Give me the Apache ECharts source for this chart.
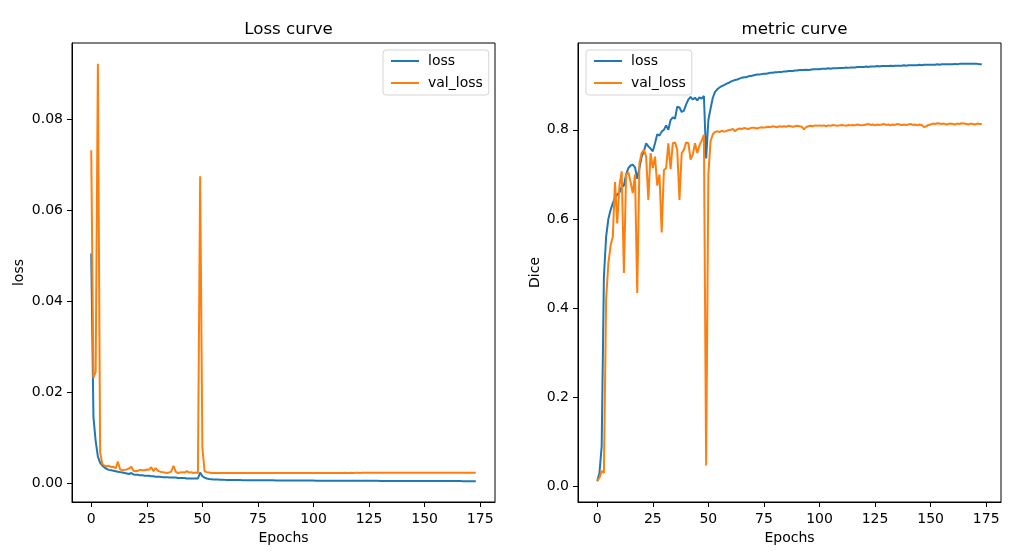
<!DOCTYPE html>
<html>
<head>
<meta charset="utf-8">
<script src="https://cdn.jsdelivr.net/npm/echarts@6/dist/echarts.min.js"></script>
<style>html,body{margin:0;padding:0;background:#fff;}#c{width:1028px;height:559px;}</style>
</head>
<body>
<div id="c"></div>
<script>
// ---- data ----
const lossTitle = 'Loss curve';
const metricTitle = 'metric curve';
const seriesNames = ['loss', 'val_loss'];
const xTicks = [0, 25, 50, 75, 100, 125, 150, 175];
const lossTicks = [0.00, 0.02, 0.04, 0.06, 0.08];
const diceTicks = [0.0, 0.2, 0.4, 0.6, 0.8];

const trainLoss = [
0.0505,0.0145,0.0092,0.0058,0.0045,0.0038,0.0034,0.0031,0.0029,0.0028,
0.0027,0.0026,0.0025,0.0024,0.0023,0.0022,0.0021,0.0020,0.0022,0.0019,
0.0018,0.0018,0.0017,0.0017,0.0016,0.0016,0.0016,0.0015,0.0015,0.0014,
0.0014,0.0014,0.0013,0.0013,0.0013,0.0012,0.0012,0.0012,0.0012,0.0011,
0.0011,0.0011,0.0011,0.0010,0.0010,0.0010,0.0010,0.0010,0.0010,0.0023,
0.0015,0.0012,0.0010,0.0009,0.00085,0.0008,0.00078,0.00076,0.00074,0.00072,
0.00070,0.00069,0.00068,0.00067,0.00066,0.00066,0.00065,0.00065,0.00064,0.00064,
0.00063,0.00063,0.00062,0.00062,0.00061,0.00061,0.00061,0.00060,0.00060,0.00060,
0.00059,0.00059,0.00059,0.00058,0.00058,0.00058,0.00057,0.00057,0.00057,0.00056,
0.00056,0.00056,0.00056,0.00055,0.00055,0.00055,0.00055,0.00054,0.00054,0.00054,
0.00054,0.00053,0.00053,0.00053,0.00053,0.00052,0.00052,0.00052,0.00052,0.00051,
0.00051,0.00051,0.00051,0.00051,0.00050,0.00050,0.00050,0.00050,0.00050,0.00049,
0.00049,0.00049,0.00049,0.00049,0.00048,0.00048,0.00048,0.00048,0.00048,0.00048,
0.00047,0.00047,0.00047,0.00047,0.00047,0.00047,0.00046,0.00046,0.00046,0.00046,
0.00046,0.00046,0.00046,0.00045,0.00045,0.00045,0.00045,0.00045,0.00045,0.00045,
0.00044,0.00044,0.00044,0.00044,0.00044,0.00044,0.00044,0.00044,0.00043,0.00043,
0.00043,0.00043,0.00043,0.00043,0.00043,0.00043,0.00043,0.00042,0.00042,0.00042,
0.00042,0.00042,0.00042,0.00042
];

const valLoss = [
0.0732,0.0231,0.0245,0.0922,0.0068,0.0042,0.0038,0.0037,0.0038,0.0035,
0.0036,0.0032,0.0047,0.0030,0.0028,0.0029,0.0030,0.0032,0.0036,0.0027,
0.0026,0.0027,0.0029,0.0028,0.0028,0.0030,0.0029,0.0035,0.0026,0.0033,
0.0027,0.0025,0.0024,0.0023,0.0022,0.0023,0.0025,0.0038,0.0025,0.0022,
0.0023,0.0024,0.0023,0.0026,0.0023,0.0024,0.0022,0.0023,0.0022,0.0675,
0.0078,0.0026,0.0024,0.0023,0.0022,0.0022,0.0022,0.0022,0.0022,0.0022,
0.00222,0.00221,0.00220,0.00221,0.00220,0.00220,0.00221,0.00220,0.00219,0.00220,
0.00220,0.00219,0.00220,0.00220,0.00219,0.00220,0.00219,0.00219,0.00220,0.00220,
0.00219,0.00220,0.00220,0.00221,0.00220,0.00220,0.00221,0.00220,0.00221,0.00221,
0.00220,0.00221,0.00221,0.00222,0.00221,0.00221,0.00222,0.00221,0.00222,0.00222,
0.00222,0.00221,0.00222,0.00222,0.00223,0.00222,0.00222,0.00223,0.00222,0.00223,
0.00223,0.00222,0.00223,0.00223,0.00224,0.00223,0.00223,0.00224,0.00223,0.00224,
0.00224,0.00223,0.00224,0.00224,0.00224,0.00225,0.00224,0.00224,0.00225,0.00224,
0.00225,0.00225,0.00224,0.00225,0.00225,0.00226,0.00225,0.00225,0.00226,0.00225,
0.00226,0.00226,0.00225,0.00226,0.00226,0.00227,0.00226,0.00226,0.00227,0.00226,
0.00227,0.00226,0.00227,0.00227,0.00227,0.00228,0.00227,0.00227,0.00228,0.00227,
0.00228,0.00228,0.00227,0.00228,0.00228,0.00228,0.00229,0.00228,0.00228,0.00229,
0.00228,0.00229,0.00229,0.00228
];

const trainDice = [
0.012,0.030,0.090,0.470,0.560,0.600,0.620,0.635,0.648,0.655,
0.660,0.672,0.675,0.700,0.714,0.720,0.722,0.716,0.690,0.715,
0.740,0.752,0.770,0.763,0.758,0.752,0.770,0.790,0.787,0.796,
0.800,0.810,0.800,0.822,0.828,0.825,0.852,0.850,0.840,0.843,
0.857,0.868,0.874,0.868,0.872,0.866,0.873,0.870,0.876,0.736,
0.822,0.848,0.872,0.885,0.891,0.895,0.898,0.900,0.903,0.905,
0.908,0.910,0.912,0.913,0.915,0.917,0.918,0.918,0.920,0.921,
0.922,0.923,0.924,0.924,0.925,0.926,0.926,0.927,0.928,0.928,
0.929,0.929,0.930,0.930,0.931,0.931,0.932,0.932,0.932,0.933,
0.933,0.934,0.934,0.934,0.935,0.934,0.935,0.936,0.936,0.936,
0.936,0.937,0.937,0.937,0.938,0.937,0.938,0.938,0.938,0.939,
0.939,0.939,0.940,0.939,0.940,0.940,0.940,0.941,0.941,0.941,
0.941,0.942,0.941,0.942,0.942,0.942,0.943,0.942,0.943,0.943,
0.943,0.943,0.944,0.943,0.944,0.944,0.944,0.944,0.945,0.944,
0.945,0.945,0.945,0.945,0.945,0.946,0.945,0.946,0.946,0.946,
0.946,0.946,0.946,0.947,0.946,0.947,0.947,0.947,0.947,0.947,
0.947,0.948,0.947,0.948,0.948,0.948,0.948,0.948,0.948,0.948,
0.948,0.948,0.947,0.947
];

const valDice = [
0.012,0.020,0.035,0.030,0.420,0.500,0.540,0.560,0.683,0.590,
0.675,0.707,0.479,0.700,0.705,0.683,0.658,0.700,0.434,0.725,
0.748,0.755,0.740,0.643,0.748,0.714,0.740,0.675,0.700,0.570,
0.710,0.714,0.770,0.712,0.770,0.772,0.755,0.643,0.748,0.755,
0.772,0.770,0.733,0.745,0.770,0.748,0.765,0.776,0.789,0.047,
0.700,0.775,0.790,0.795,0.797,0.795,0.798,0.796,0.797,0.799,
0.800,0.802,0.797,0.801,0.803,0.802,0.804,0.803,0.802,0.804,
0.805,0.804,0.803,0.805,0.806,0.805,0.806,0.807,0.806,0.808,
0.807,0.806,0.808,0.807,0.808,0.807,0.809,0.808,0.807,0.808,
0.809,0.808,0.807,0.801,0.806,0.808,0.809,0.808,0.810,0.809,
0.810,0.809,0.810,0.808,0.810,0.809,0.811,0.810,0.809,0.810,
0.811,0.810,0.809,0.811,0.810,0.811,0.810,0.812,0.811,0.810,
0.811,0.812,0.813,0.811,0.812,0.810,0.812,0.811,0.812,0.813,
0.811,0.812,0.810,0.812,0.811,0.813,0.812,0.811,0.812,0.811,
0.812,0.813,0.811,0.812,0.810,0.812,0.811,0.806,0.808,0.811,
0.812,0.814,0.813,0.815,0.814,0.813,0.814,0.812,0.813,0.814,
0.813,0.812,0.814,0.813,0.815,0.814,0.813,0.812,0.814,0.813,
0.812,0.814,0.813,0.813
];

// ---- build chart ----
const BLUE = '#1f77b4', ORANGE = '#ff7f0e';
const FONT = 'DejaVu Sans';
const pairs = arr => arr.map((v, i) => [i, v]);
function padRange(arrs) {
  let mn = Infinity, mx = -Infinity;
  arrs.forEach(a => a.forEach(v => { mn = Math.min(mn, v); mx = Math.max(mx, v); }));
  const m = (mx - mn) * 0.05;
  return [mn - m, mx + m];
}
const nEp = trainLoss.length;
const xr = [-(nEp - 1) * 0.05, (nEp - 1) * 1.05];
const lr = padRange([trainLoss, valLoss]);
const dr = padRange([trainDice, valDice]);

const chart = echarts.init(document.getElementById('c'), null, {renderer: 'canvas'});

function xAxisCfg(gi) {
  return {
    type: 'value', gridIndex: gi, min: xr[0], max: xr[1],
    name: 'Epochs', nameLocation: 'middle', nameGap: 28,
    nameTextStyle: {fontFamily: FONT, fontSize: 14, color: '#000'},
    axisLine: {show: true, onZero: false, lineStyle: {color: '#000', width: 1}},
    axisTick: {show: true, length: 5, customValues: xTicks, lineStyle: {color: '#000'}},
    axisLabel: {customValues: xTicks, margin: 10, fontFamily: FONT, fontSize: 14, color: '#000',
      formatter: v => String(Math.round(v))},
    splitLine: {show: false}
  };
}
function yAxisCfg(gi, rng, ticks, dec, name, gap) {
  return {
    type: 'value', gridIndex: gi, min: rng[0], max: rng[1],
    name: name, nameLocation: 'middle', nameGap: gap, nameRotate: 90,
    nameTextStyle: {fontFamily: FONT, fontSize: 14, color: '#000'},
    axisLine: {show: true, onZero: false, lineStyle: {color: '#000', width: 1}},
    axisTick: {show: true, length: 5, customValues: ticks, lineStyle: {color: '#000'}},
    axisLabel: {customValues: ticks, margin: 9, fontFamily: FONT, fontSize: 14, color: '#000',
      formatter: v => v.toFixed(dec)},
    splitLine: {show: false}
  };
}
function legendCfg(left, top) {
  return {
    left: left, top: top, orient: 'vertical',
    data: seriesNames,
    icon: 'rect',
    itemWidth: 28, itemHeight: 2, itemGap: 8,
    padding: [4, 6, 5, 8],
    borderColor: '#d5d5d5', borderWidth: 1, borderRadius: 3,
    backgroundColor: 'rgba(255,255,255,0.8)',
    textStyle: {fontFamily: FONT, fontSize: 14, color: '#000', padding: [0, 0, 0, 4], lineHeight: 14},
    selectedMode: false
  };
}
function line(name, data, color, gi) {
  return {
    type: 'line', name: name, xAxisIndex: gi, yAxisIndex: gi,
    data: pairs(data), symbol: 'none', showSymbol: false,
    lineStyle: {color: color, width: 2}, itemStyle: {color: color},
    clip: true, silent: true
  };
}

chart.setOption({
  animation: false,
  backgroundColor: '#fff',
  title: [
    {text: lossTitle, left: 283.5, top: 16, textAlign: 'center',
     textStyle: {fontFamily: FONT, fontSize: 16.7, fontWeight: 'normal', color: '#000'}},
    {text: metricTitle, left: 789.5, top: 16, textAlign: 'center',
     textStyle: {fontFamily: FONT, fontSize: 16.7, fontWeight: 'normal', color: '#000'}}
  ],
  grid: [
    {left: 72, top: 43, width: 423, height: 459, show: true, borderColor: '#000', borderWidth: 1, backgroundColor: 'transparent'},
    {left: 578, top: 43, width: 423, height: 459, show: true, borderColor: '#000', borderWidth: 1, backgroundColor: 'transparent'}
  ],
  xAxis: [xAxisCfg(0), xAxisCfg(1)],
  yAxis: [
    yAxisCfg(0, lr, lossTicks, 2, 'loss', 46),
    yAxisCfg(1, dr, diceTicks, 1, 'Dice', 36)
  ],
  legend: [legendCfg(383, 50), legendCfg(586, 50)],
  series: [
    line('loss', trainLoss, BLUE, 0),
    line('val_loss', valLoss, ORANGE, 0),
    line('loss', trainDice, BLUE, 1),
    line('val_loss', valDice, ORANGE, 1)
  ]
});
</script>
</body>
</html>
